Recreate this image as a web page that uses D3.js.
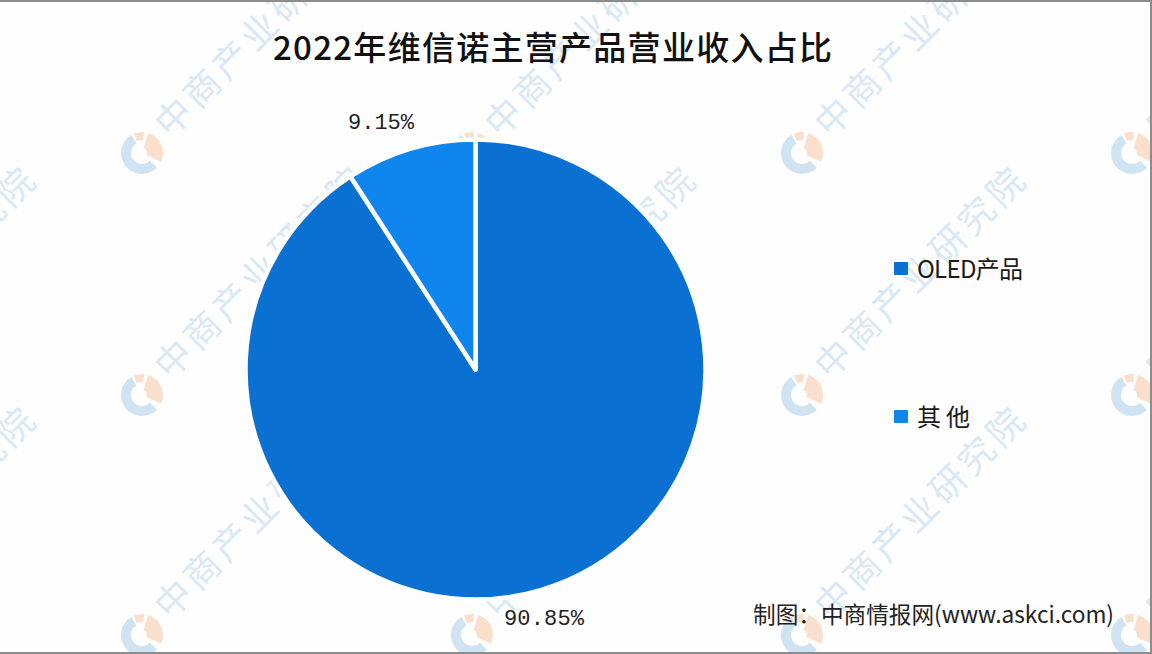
<!DOCTYPE html>
<html><head><meta charset="utf-8">
<script src="https://cdn.jsdelivr.net/npm/d3@7"></script>
<style>html,body{margin:0;padding:0;background:#fff;overflow:hidden}svg{display:block}</style>
</head><body><div id="c"></div>
<script>
const categories = ["OLED产品", "其他"];
const shares = [90.85, 9.15];
const shareLabels = ["90.85%", "9.15%"];
const colors = ["#0a70d2", "#0e86ee"];
const titleText = "2022年维信诺主营产品营业收入占比";
const sourceText = "制图：中商情报网(www.askci.com)";
const watermarkText = "中商产业研究院";
const markCols = [-188, 142, 472, 802, 1132];
const markRows = [-87, 153, 395, 635];

const W = 1152, H = 654;
const svg = d3.select("#c").append("svg").attr("width", W).attr("height", H);
svg.append("rect").attr("width", W).attr("height", H).attr("fill", "#fefefe");

// watermark
const wm = svg.append("g");
const logoArc = d3.arc();
const blue = "#cfe3f2", peach = "#fbdfcd";
markRows.forEach(y => markCols.forEach(x => {
  const g = wm.append("g").attr("transform", `translate(${x},${y})`);
  g.append("path").attr("d", logoArc({innerRadius: 11, outerRadius: 21, startAngle: 2.35, endAngle: 5.75})).attr("fill", blue);
  g.append("path").attr("d", logoArc({innerRadius: 5, outerRadius: 21, startAngle: 0.3, endAngle: 2.0})).attr("fill", peach);
  g.append("path").attr("d", logoArc({innerRadius: 13, outerRadius: 21, startAngle: -0.4, endAngle: 0.1})).attr("fill", peach);
  g.append("text").attr("transform", "translate(21,-21) rotate(-45)")
    .attr("font-family", "'Noto Sans CJK SC'").attr("font-size", 36)
    .attr("letter-spacing", 4.5).attr("dominant-baseline", "middle")
    .attr("fill", "#d9e8f4").text(watermarkText);
}));

// pie
const cx = 475.5, cy = 369.5, R = 230;
const pie = d3.pie().sort(null).value(d => d);
const arc = d3.arc().innerRadius(0).outerRadius(R);
svg.append("g").attr("transform", `translate(${cx},${cy})`)
  .selectAll("path").data(pie(shares)).join("path")
  .attr("d", arc).attr("fill", (d, i) => colors[i])
  .attr("stroke", "#fff").attr("stroke-width", 4.5).attr("stroke-linejoin", "round");

// title
svg.append("text").attr("x", 273).attr("y", 60)
  .attr("font-family", "'Noto Sans CJK SC'").attr("font-size", 33).attr("font-weight", 500)
  .attr("fill", "#111").attr("textLength", 559).text(titleText);

// data labels
const labelPos = [[544, 625], [381, 129]];
shareLabels.forEach((t, i) => svg.append("text").attr("x", labelPos[i][0]).attr("y", labelPos[i][1])
  .attr("text-anchor", "middle").attr("font-family", "'Liberation Mono'").attr("font-size", 22)
  .attr("fill", "#222").attr("textLength", i ? 66 : 80).text(t));

// legend
const legendY = [269, 417];
categories.forEach((c, i) => {
  svg.append("rect").attr("x", 894).attr("y", legendY[i] - 7).attr("width", 14).attr("height", 13)
    .attr("rx", 1).attr("fill", colors[i]);
  svg.append("text").attr("x", 917).attr("y", legendY[i] + 9)
    .attr("font-family", "'Noto Sans CJK SC'").attr("font-size", 24).attr("fill", "#1a1a1a")
    .attr("textLength", i ? 53 : 106).text(c);
});

// source
svg.append("text").attr("x", 753).attr("y", 623)
  .attr("font-family", "'Noto Sans CJK SC'").attr("font-size", 23).attr("fill", "#222")
  .attr("textLength", 361).attr("lengthAdjust", "spacingAndGlyphs").text(sourceText);

// photo border
svg.append("path").attr("d", `M0,1H${W-1}V${H-1}H0`).attr("fill", "none").attr("stroke", "#8c8c8c").attr("stroke-width", 2);
</script></body></html>
